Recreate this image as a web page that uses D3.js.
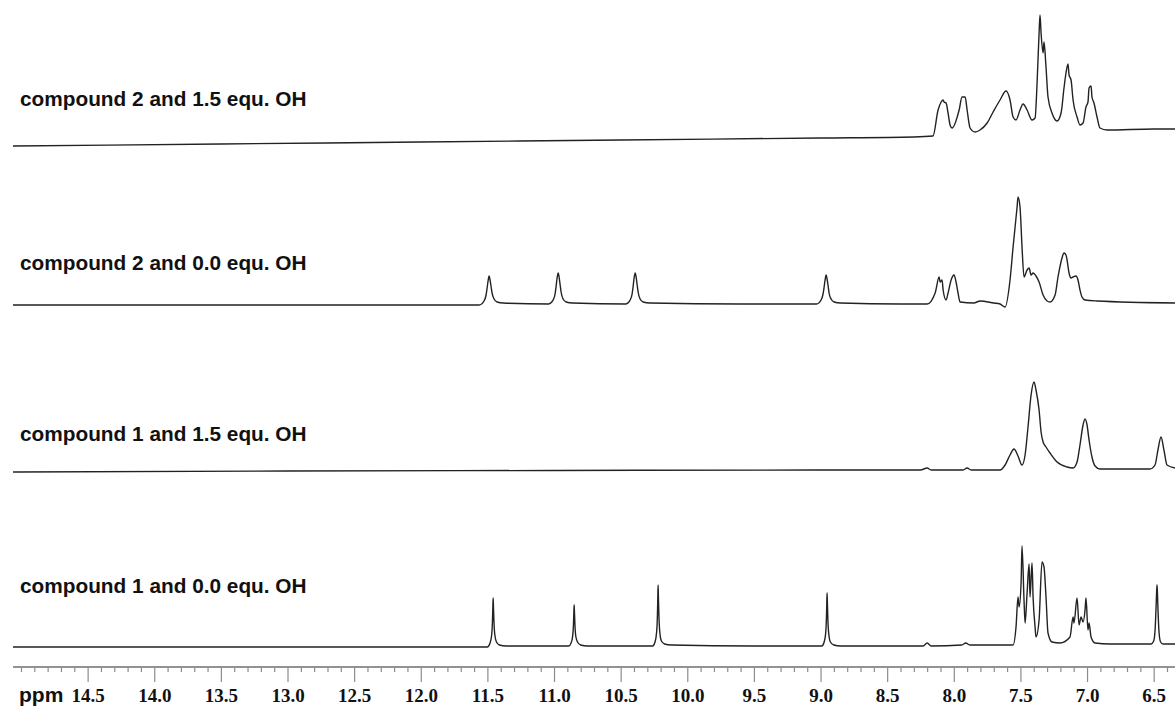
<!DOCTYPE html>
<html>
<head>
<meta charset="utf-8">
<script src="https://cdn.jsdelivr.net/npm/d3@7"></script>
<style>
  html, body { margin: 0; padding: 0; background: #fff; }
  svg { display: block; }
</style>
</head>
<body>
<svg id="chart" width="1175" height="706"></svg>
<script>
// ---------------- DATA ----------------
const traceNames = [
  "compound 2 and 1.5 equ. OH",
  "compound 2 and 0.0 equ. OH",
  "compound 1 and 1.5 equ. OH",
  "compound 1 and 0.0 equ. OH"
];

const majorTicks = [14.5, 14.0, 13.5, 13.0, 12.5, 12.0, 11.5, 11.0, 10.5, 10.0, 9.5, 9.0, 8.5, 8.0, 7.5, 7.0, 6.5];
const tickLabels = ["14.5", "14.0", "13.5", "13.0", "12.5", "12.0", "11.5", "11.0", "10.5", "10.0", "9.5", "9.0", "8.5", "8.0", "7.5", "7.0", "6.5"];
const minorTicks = [15.0, 14.9, 14.8, 14.7, 14.6, 14.4, 14.3, 14.2, 14.1, 13.9, 13.8, 13.7, 13.6, 13.4, 13.3, 13.2, 13.1,
  12.9, 12.8, 12.7, 12.6, 12.4, 12.3, 12.2, 12.1, 11.9, 11.8, 11.7, 11.6, 11.4, 11.3, 11.2, 11.1,
  10.9, 10.8, 10.7, 10.6, 10.4, 10.3, 10.2, 10.1, 9.9, 9.8, 9.7, 9.6, 9.4, 9.3, 9.2, 9.1,
  8.9, 8.8, 8.7, 8.6, 8.4, 8.3, 8.2, 8.1, 7.9, 7.8, 7.7, 7.6, 7.4, 7.3, 7.2, 7.1, 6.9, 6.8, 6.7, 6.6, 6.4];
const ppmDomain = [15.06, 6.34];

// spectrum: [ppm, intensity]
const spectrum2_15 = [
  [15.06, 1], [13.5, 3], [12.0, 5], [10.5, 7], [9.0, 9], [8.30, 10], [8.156, 11],
  [8.118, 37], [8.095, 45], [8.080, 47], [8.073, 45], [8.058, 44], [8.043, 34], [8.028, 22], [8.013, 19],
  [7.960, 37], [7.938, 50], [7.930, 50], [7.915, 50], [7.900, 37], [7.878, 19], [7.840, 15], [7.803, 17],
  [7.750, 24], [7.705, 35], [7.653, 47], [7.608, 56], [7.578, 47], [7.555, 30], [7.533, 27], [7.503, 37],
  [7.480, 43], [7.450, 37], [7.413, 27], [7.390, 29], [7.375, 64], [7.360, 114], [7.353, 132], [7.345, 114],
  [7.330, 94], [7.323, 105], [7.308, 80], [7.293, 50], [7.263, 34], [7.225, 26], [7.195, 34], [7.173, 59],
  [7.158, 74], [7.143, 83], [7.135, 72], [7.120, 67], [7.105, 47], [7.075, 30], [7.053, 22], [7.030, 24],
  [7.008, 40], [6.993, 45], [6.985, 59], [6.970, 61], [6.963, 50], [6.948, 44], [6.925, 30], [6.903, 19],
  [6.850, 17], [6.50, 18], [6.34, 18]
];

const spectrum2_00 = [
  [15.06, 0], [13.0, 0], [11.8, 0],
  [11.562, 0], [11.525, 4], [11.51, 10], [11.502, 17], [11.495, 24], [11.487, 29], [11.48, 25], [11.472, 18], [11.465, 12], [11.45, 6], [11.427, 3], [11.38, 2],
  [11.04, 1], [11.007, 5], [10.992, 11], [10.984, 19], [10.977, 27], [10.969, 32], [10.962, 28], [10.954, 20], [10.947, 13], [10.932, 6], [10.909, 3], [10.86, 2],
  [10.46, 1], [10.429, 5], [10.414, 11], [10.406, 19], [10.399, 27], [10.391, 32], [10.384, 28], [10.376, 20], [10.369, 13], [10.354, 6], [10.331, 3], [10.28, 2],
  [9.6, 1],
  [9.03, 1], [8.996, 5], [8.981, 11], [8.973, 18], [8.966, 25], [8.958, 30], [8.951, 26], [8.943, 19], [8.936, 12], [8.921, 6], [8.898, 3], [8.85, 2],
  [8.40, 1], [8.20, 1],
  [8.140, 12], [8.110, 28], [8.103, 23], [8.088, 25], [8.080, 15], [8.058, 5], [8.043, 12], [8.020, 25], [7.998, 30],
  [7.983, 23], [7.968, 12], [7.953, 3], [7.85, 2], [7.803, 4], [7.70, 2], [7.653, 1], [7.615, -2], [7.578, 25],
  [7.555, 58], [7.525, 98], [7.518, 108], [7.503, 98], [7.488, 58], [7.473, 28], [7.450, 35], [7.435, 37],
  [7.420, 30], [7.405, 32], [7.383, 29], [7.360, 23], [7.330, 10], [7.300, 4], [7.278, 3], [7.240, 10],
  [7.218, 28], [7.188, 47], [7.173, 52], [7.158, 50], [7.150, 45], [7.135, 32], [7.120, 27], [7.105, 28],
  [7.083, 29], [7.068, 25], [7.053, 15], [7.038, 8], [7.015, 5], [6.925, 4], [6.34, 2]
];

const spectrum1_15 = [
  [15.06, 0], [13.0, 1], [11.0, 1.5], [9.0, 2], [8.25, 2], [8.20, 4], [8.17, 2], [7.93, 2], [7.90, 4], [7.87, 2],
  [7.653, 2], [7.615, 7], [7.578, 17], [7.548, 23], [7.518, 16], [7.488, 7], [7.465, 17], [7.443, 45],
  [7.420, 77], [7.398, 90], [7.383, 82], [7.360, 62], [7.345, 40], [7.330, 30], [7.308, 25], [7.278, 19],
  [7.225, 10], [7.150, 5], [7.105, 4], [7.075, 10], [7.053, 27], [7.030, 47], [7.015, 53], [7.000, 47],
  [6.985, 32], [6.963, 15], [6.940, 6], [6.903, 3], [6.528, 3], [6.490, 7], [6.468, 22], [6.445, 35],
  [6.423, 22], [6.400, 7], [6.34, 4]
];

const spectrum1_00 = [
  [15.06, 0], [13.0, 0], [11.7, 0],
  [11.50, 0], [11.48, 4], [11.468, 12], [11.462, 26], [11.459, 40], [11.457, 49], [11.455, 42], [11.451, 26], [11.445, 13], [11.432, 5], [11.41, 2], [11.36, 1],
  [10.89, 1], [10.872, 4], [10.86, 11], [10.854, 23], [10.851, 35], [10.849, 42], [10.847, 36], [10.843, 22], [10.837, 11], [10.824, 5], [10.80, 2], [10.75, 1],
  [10.26, 1], [10.242, 5], [10.23, 15], [10.224, 32], [10.221, 50], [10.219, 62], [10.217, 52], [10.213, 32], [10.207, 16], [10.194, 6], [10.17, 3], [10.12, 2],
  [9.5, 1],
  [8.99, 1], [8.973, 5], [8.962, 13], [8.956, 28], [8.953, 44], [8.951, 54], [8.949, 46], [8.945, 28], [8.939, 14], [8.926, 5], [8.90, 2], [8.85, 1],
  [8.23, 1], [8.20, 4], [8.17, 1], [7.94, 2], [7.91, 4], [7.88, 2],
  [7.60, 2], [7.555, 2], [7.533, 20], [7.518, 50], [7.510, 40], [7.495, 64], [7.488, 101], [7.473, 47],
  [7.465, 24], [7.450, 54], [7.435, 83], [7.428, 50], [7.413, 84], [7.405, 50], [7.390, 20], [7.383, 10],
  [7.360, 27], [7.338, 85], [7.323, 80], [7.308, 50], [7.293, 14], [7.263, 5], [7.203, 4], [7.128, 10],
  [7.105, 30], [7.098, 24], [7.075, 49], [7.060, 22], [7.045, 30], [7.030, 25], [7.015, 37], [7.008, 49],
  [6.993, 17], [6.985, 24], [6.970, 10], [6.940, 4], [6.828, 3],
  [6.52, 3], [6.50, 6], [6.489, 18], [6.482, 40], [6.478, 55], [6.475, 62], [6.472, 55], [6.467, 35], [6.46, 15], [6.448, 5], [6.43, 3], [6.34, 3]
];

const spectra = [spectrum2_15, spectrum2_00, spectrum1_15, spectrum1_00];

// ---------------- LAYOUT ----------------
const svg = d3.select("#chart");
const x = d3.scaleLinear().domain(ppmDomain).range([13, 1175]);

const zeroY = [147, 305, 472, 647];
const labelY = [106, 270, 441, 593];

spectra.forEach((data, i) => {
  const y = d3.scaleLinear().domain([0, 100]).range([zeroY[i], zeroY[i] - 100]);
  const line = d3.line()
    .x(d => x(d[0]))
    .y(d => y(d[1]))
    .curve(d3.curveMonotoneX);
  svg.append("path")
    .datum(data)
    .attr("d", line)
    .attr("fill", "none")
    .attr("stroke", "#222")
    .attr("stroke-width", 1.4)
    .attr("stroke-linejoin", "round");

  svg.append("text")
    .attr("x", 20)
    .attr("y", labelY[i])
    .attr("font-family", "'Liberation Sans', Arial, sans-serif")
    .attr("font-weight", "bold")
    .attr("font-size", "20.8px")
    .attr("fill", "#111")
    .text(traceNames[i]);
});

// ---------------- AXIS ----------------
const axisY = 667;
const axisG = svg.append("g").attr("transform", `translate(0,${axisY})`);

const minorAxis = d3.axisBottom(x).tickValues(minorTicks).tickSize(5).tickFormat("");
const majorAxis = d3.axisBottom(x).tickValues(majorTicks).tickSize(15)
  .tickFormat((d, i) => tickLabels[i]).tickPadding(6);

const gMinor = axisG.append("g").call(minorAxis);
const gMajor = axisG.append("g").call(majorAxis);

[gMinor, gMajor].forEach(g => {
  g.select(".domain").attr("stroke", "#8c8c8c").attr("stroke-width", 1.6)
    .attr("d", `M13,0H1175`);
  g.selectAll(".tick line").attr("stroke", "#8c8c8c").attr("stroke-width", 1.2);
});
gMajor.selectAll(".tick text")
  .attr("font-family", "'Liberation Serif', 'Times New Roman', serif")
  .attr("font-weight", "bold")
  .attr("font-size", "19px")
  .attr("fill", "#111")
  .attr("dy", "0")
  .attr("y", 0)
  .attr("transform", "translate(0,35)");

svg.append("text")
  .attr("x", 19)
  .attr("y", 702)
  .attr("font-family", "'Liberation Sans', Arial, sans-serif")
  .attr("font-weight", "bold")
  .attr("font-size", "21px")
  .attr("fill", "#111")
  .text("ppm");
</script>
</body>
</html>
